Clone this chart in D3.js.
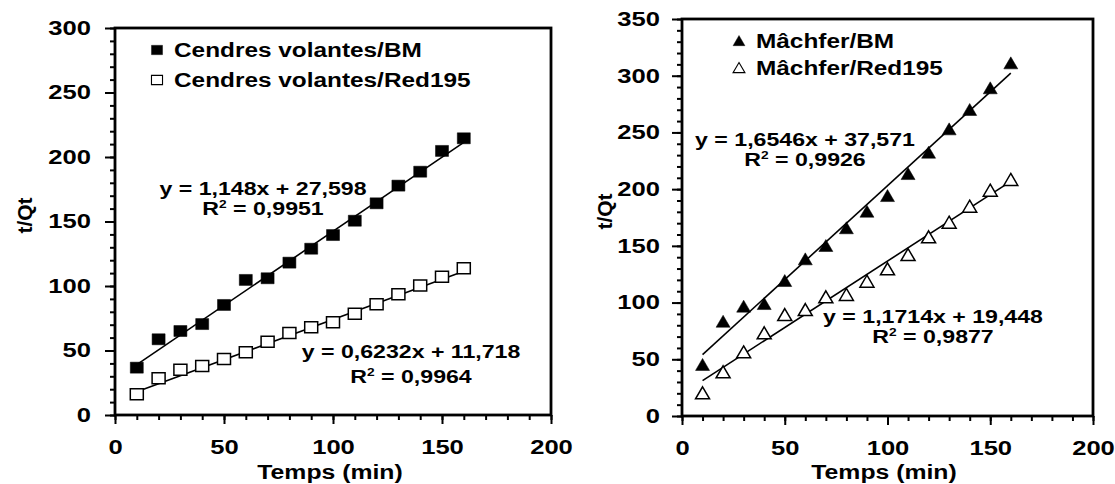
<!DOCTYPE html>
<html>
<head>
<meta charset="utf-8">
<script src="https://cdn.jsdelivr.net/npm/d3@7"></script>
<style>
body { margin: 0; background: #fff; }
svg { display: block; font-family: "Liberation Sans", Arial, sans-serif; font-weight: bold; }
</style>
</head>
<body>
<svg width="1115" height="484"></svg>
<script>
// contact time (min), shared by all series
var times = [10, 20, 30, 40, 50, 60, 70, 80, 90, 100, 110, 120, 130, 140, 150, 160]

// left panel - cendres volantes
var cvBM  = [36.7, 58.7, 65.1, 70.5, 85.3, 104.7, 106.0, 118.1, 128.9, 139.5, 150.6, 164.1, 177.8, 188.6, 204.7, 214.5]
var cvRed = [16.0, 28.4, 35.1, 38.0, 43.4, 48.6, 56.8, 63.6, 68.0, 71.9, 78.5, 85.8, 93.6, 100.3, 107.2, 113.7]

// right panel - machefer
var mBM  = [45.0, 83.1, 96.4, 98.7, 119.0, 138.1, 149.9, 165.5, 180.1, 193.9, 213.3, 232.1, 252.7, 269.8, 288.9, 310.9]
var mRed = [20.0, 38.5, 56.1, 72.9, 89.0, 93.4, 104.6, 106.7, 118.4, 129.3, 141.9, 157.5, 170.4, 184.5, 198.6, 208.1]

// linear fits [slope, intercept]
var cvBMFit  = [1.148, 27.598]
var cvRedFit = [0.6232, 11.718]
var mBMFit   = [1.6546, 37.571]
var mRedFit  = [1.1714, 19.448]

var eqLeft  = ['y = 1,148x + 27,598', 'y = 0,6232x + 11,718']
var r2Left  = ['0,9951', '0,9964']
var eqRight = ['y = 1,6546x + 37,571', 'y = 1,1714x + 19,448']
var r2Right = ['0,9926', '0,9877']

var namesLeft  = ['Cendres volantes/BM', 'Cendres volantes/Red195']
var namesRight = ['M\u00e2chfer/BM', 'M\u00e2chfer/Red195']

var xTicks      = [0, 50, 100, 150, 200]
var yTicksLeft  = [0, 50, 100, 150, 200, 250, 300]
var yTicksRight = [0, 50, 100, 150, 200, 250, 300, 350]

var S = 1.25   // the picture is stretched sideways
var ST = 1.28  // tick labels look a bit wider still
var svg = d3.select('svg')

function wide(g, x, y, txt, size, anchor, sx) {
  return g.append('text')
    .attr('transform', 'translate(' + x + ',' + y + ') scale(' + (sx || S) + ',1)')
    .attr('text-anchor', anchor)
    .style('font-size', size + 'px')
    .text(txt)
}

function r2Label(g, x, y, val) {
  var t = g.append('text')
    .attr('transform', 'translate(' + x + ',' + y + ') scale(' + S + ',1)')
    .attr('text-anchor', 'middle')
    .style('font-size', '18.5px')
  t.append('tspan').text('R')
  t.append('tspan').attr('dy', -7).style('font-size', '11px').text('2')
  t.append('tspan').attr('dy', 7).text(' = ' + val)
}

var squarePath = 'M-6.5,-5.5H6.5V5.5H-6.5Z'
var trianglePath = 'M0,-6.5L7,5.5H-7Z'

function drawPanel(p) {
  var x = d3.scaleLinear().domain([0, 200]).range([p.left, p.right])
  var y = d3.scaleLinear().domain([0, p.ymax]).range([p.bottom, p.top])
  var g = svg.append('g')

  // minor ticks
  g.append('g').attr('class', 'ax')
    .attr('transform', 'translate(' + p.left + ',0)')
    .call(d3.axisLeft(y).tickValues(d3.range(0, p.ymax + 1, 10)).tickSize(5).tickFormat(''))
  g.append('g').attr('class', 'ax')
    .attr('transform', 'translate(0,' + p.bottom + ')')
    .call(d3.axisBottom(x).tickValues(d3.range(0, 201, 10)).tickSize(5).tickFormat(''))

  // major ticks + labels
  var ya = g.append('g').attr('class', 'ax')
    .attr('transform', 'translate(' + p.left + ',0)')
    .call(d3.axisLeft(y).tickValues(p.yTicks).tickSize(10))
  ya.selectAll('text')
    .attr('x', -p.labelGap / ST)
    .attr('transform', 'scale(' + ST + ',1)')

  var xa = g.append('g').attr('class', 'ax')
    .attr('transform', 'translate(0,' + p.bottom + ')')
    .call(d3.axisBottom(x).tickValues(xTicks).tickSize(9))
  xa.selectAll('text')
    .attr('y', 39).attr('dy', 0)
    .attr('transform', 'scale(' + ST + ',1)')

  g.selectAll('.ax').style('font-size', '20px').style('font-family', null)
  g.selectAll('.ax path.domain').remove()
  g.selectAll('.ax line').attr('stroke', '#000').attr('stroke-width', 2)
  g.selectAll('.ax text').attr('fill', '#000')

  // plot frame
  g.append('rect')
    .attr('x', p.left).attr('y', p.top)
    .attr('width', p.right - p.left).attr('height', p.bottom - p.top)
    .attr('fill', 'none').attr('stroke', '#000').attr('stroke-width', 2.8)

  // trend lines
  var ends = [times[0], times[times.length - 1]]
  p.series.forEach(function(s) {
    g.append('path')
      .attr('d', d3.line().x(function(t) { return x(t) }).y(function(t) { return y(s.fit[0] * t + s.fit[1]) })(ends))
      .attr('fill', 'none').attr('stroke', '#000').attr('stroke-width', 1.6)
  })

  // markers
  p.series.forEach(function(s) {
    g.selectAll(null)
      .data(s.values)
      .enter()
      .append('path')
        .attr('d', p.marker)
        .attr('transform', function(d, i) { return 'translate(' + x(times[i]) + ',' + y(d) + ')' })
        .attr('fill', s.filled ? '#000' : '#fff')
        .attr('stroke', '#000')
        .attr('stroke-width', s.filled ? 0.5 : 1.5)
  })

  // legend
  p.series.forEach(function(s, i) {
    var ly = p.legendY[i]
    g.append('path')
      .attr('d', p.marker)
      .attr('transform', 'translate(' + p.legendX + ',' + (ly - 7) + ') scale(0.85)')
      .attr('fill', s.filled ? '#000' : '#fff')
      .attr('stroke', '#000')
      .attr('stroke-width', s.filled ? 0.5 : 1.3)
    wide(g, p.legendX + 17, ly, s.name, 19.5, 'start')
  })

  // equations
  p.series.forEach(function(s) {
    wide(g, s.eqX, s.eqY, s.eq, 18.5, 'middle')
    r2Label(g, s.eqX, s.eqY + s.r2Gap, s.r2)
  })

  // axis titles
  wide(g, p.xTitleX, 479, 'Temps (min)', 21, 'middle', 1.18)
  g.append('text')
    .attr('transform', 'translate(' + p.yTitleX + ',' + ((p.top + p.bottom) / 2 - 6) + ') rotate(-90)')
    .attr('text-anchor', 'middle')
    .style('font-size', '21px')
    .text('t/Qt')
}

drawPanel({
  left: 115, right: 551, top: 28, bottom: 415, ymax: 300,
  yTicks: yTicksLeft, labelGap: 24, marker: squarePath,
  legendX: 157, legendY: [57, 87],
  xTitleX: 330, yTitleX: 32,
  series: [
    { values: cvBM, fit: cvBMFit, filled: true, name: namesLeft[0], eq: eqLeft[0], r2: r2Left[0], eqX: 263, eqY: 195, r2Gap: 20 },
    { values: cvRed, fit: cvRedFit, filled: false, name: namesLeft[1], eq: eqLeft[1], r2: r2Left[1], eqX: 411, eqY: 358, r2Gap: 25 }
  ]
})

drawPanel({
  left: 682, right: 1093, top: 19, bottom: 416, ymax: 350,
  yTicks: yTicksRight, labelGap: 22, marker: trianglePath,
  legendX: 739, legendY: [48, 75],
  xTitleX: 884, yTitleX: 612,
  series: [
    { values: mBM, fit: mBMFit, filled: true, name: namesRight[0], eq: eqRight[0], r2: r2Right[0], eqX: 805, eqY: 146, r2Gap: 20 },
    { values: mRed, fit: mRedFit, filled: false, name: namesRight[1], eq: eqRight[1], r2: r2Right[1], eqX: 933, eqY: 323, r2Gap: 20 }
  ]
})
</script>
</body>
</html>
